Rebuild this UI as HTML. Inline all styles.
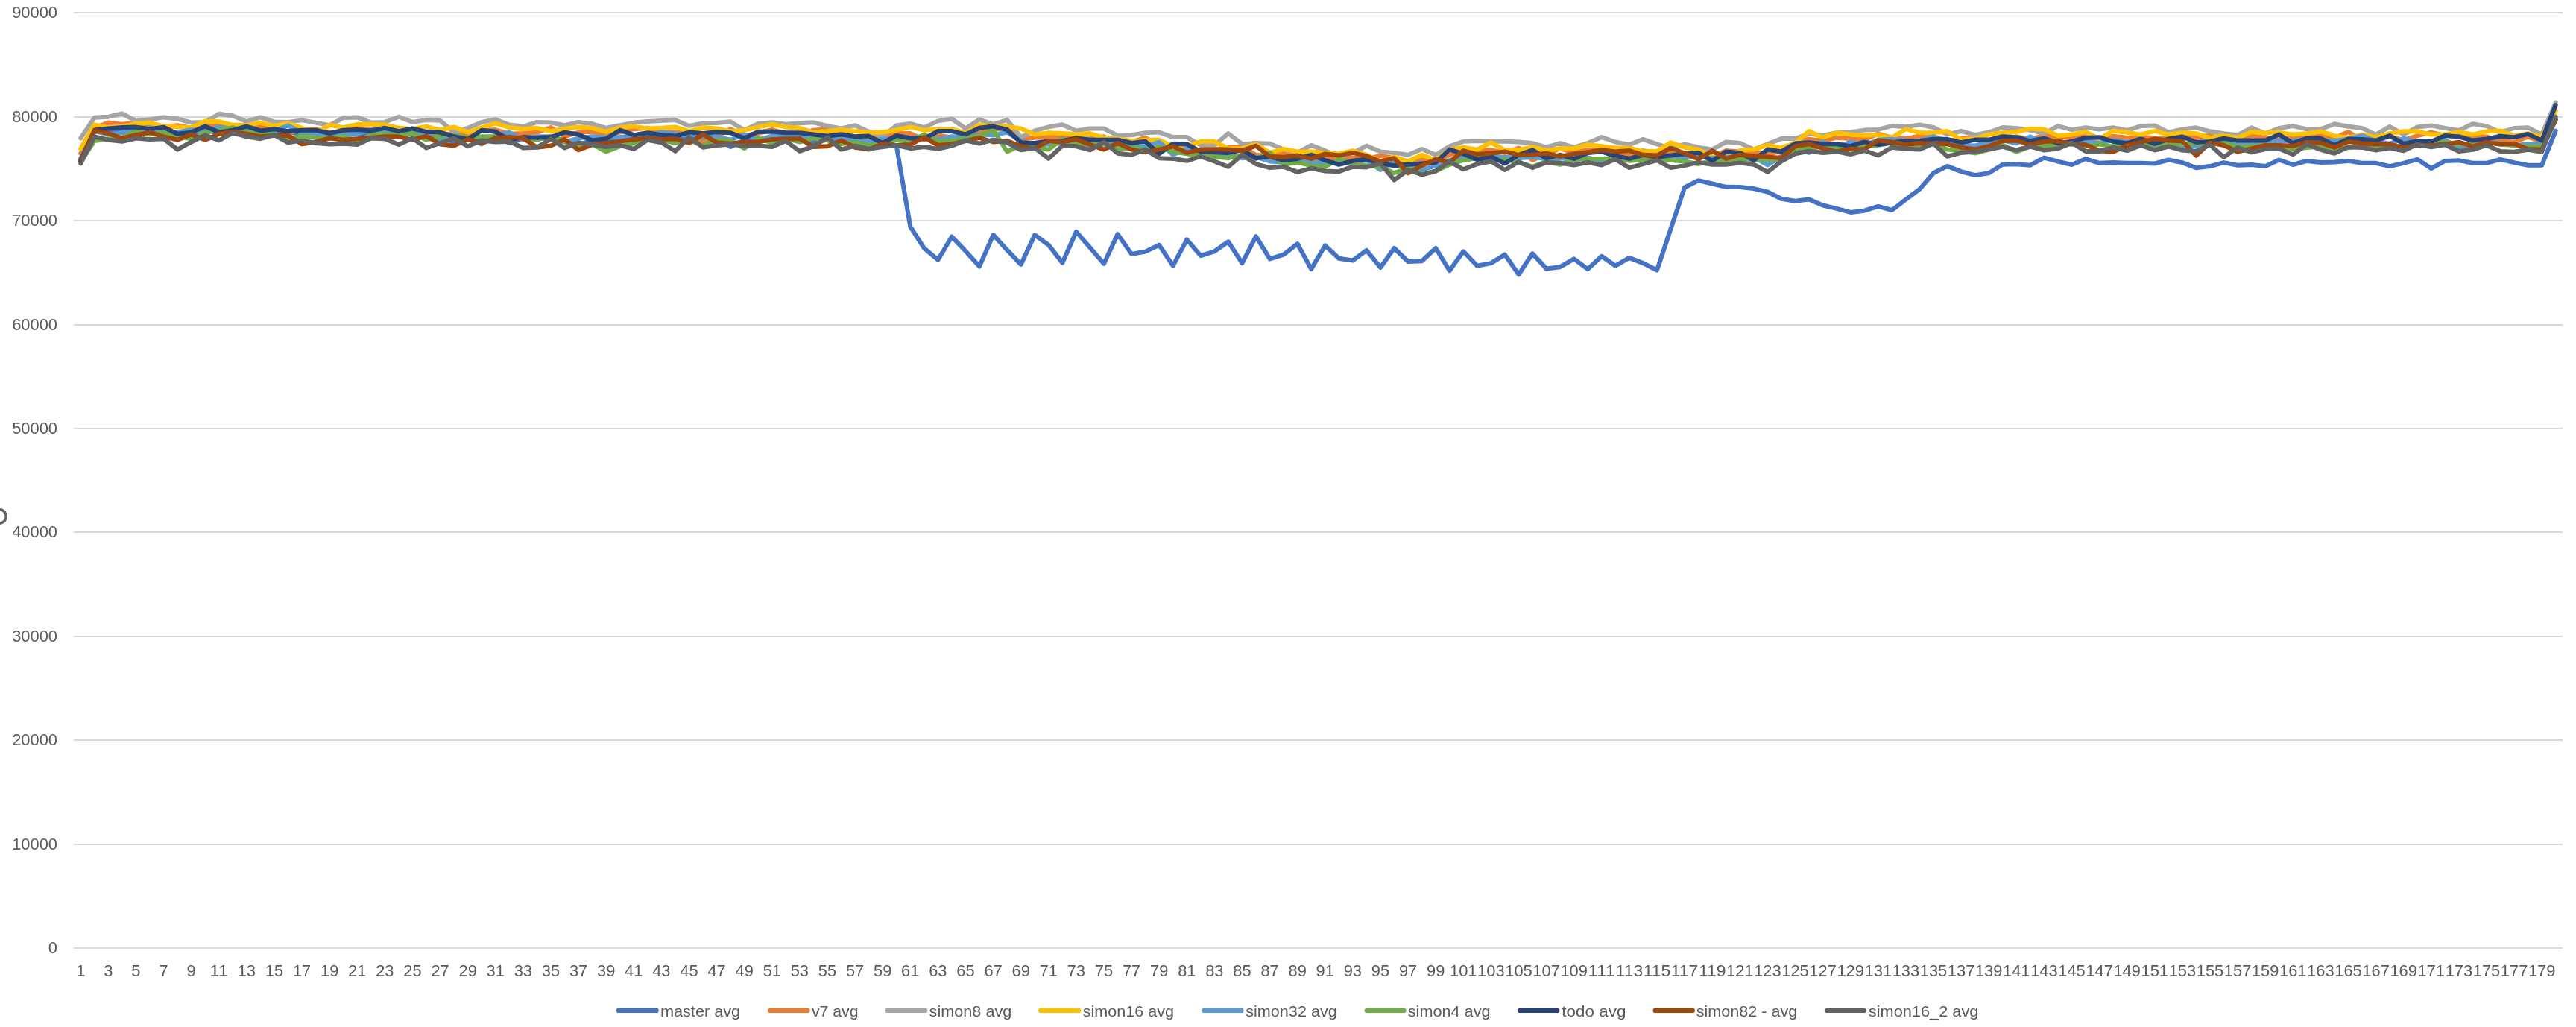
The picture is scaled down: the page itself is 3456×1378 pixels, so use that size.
<!DOCTYPE html>
<html><head><meta charset="utf-8"><title>chart</title>
<style>
html,body{margin:0;padding:0;background:#fff;}
body{width:3456px;height:1378px;overflow:hidden;}
svg{display:block;will-change:transform;}
text{font-family:"Liberation Sans",sans-serif;font-size:21.6px;fill:#595959;}
.g{stroke:#D9D9D9;stroke-width:2;}
.s{fill:none;stroke-width:6;stroke-linejoin:round;stroke-linecap:round;}
</style></head><body>
<svg width="3456" height="1378" viewBox="0 0 3456 1378">
<rect width="3456" height="1378" fill="#fff"/>
<line class="g" x1="99.0" y1="17.00" x2="3438.0" y2="17.00"/>
<text x="77" y="24.10" text-anchor="end" textLength="60.8" lengthAdjust="spacingAndGlyphs">90000</text>
<line class="g" x1="99.0" y1="157.00" x2="3438.0" y2="157.00"/>
<text x="77" y="164.10" text-anchor="end" textLength="60.8" lengthAdjust="spacingAndGlyphs">80000</text>
<line class="g" x1="99.0" y1="296.00" x2="3438.0" y2="296.00"/>
<text x="77" y="303.10" text-anchor="end" textLength="60.8" lengthAdjust="spacingAndGlyphs">70000</text>
<line class="g" x1="99.0" y1="436.00" x2="3438.0" y2="436.00"/>
<text x="77" y="443.10" text-anchor="end" textLength="60.8" lengthAdjust="spacingAndGlyphs">60000</text>
<line class="g" x1="99.0" y1="575.00" x2="3438.0" y2="575.00"/>
<text x="77" y="582.10" text-anchor="end" textLength="60.8" lengthAdjust="spacingAndGlyphs">50000</text>
<line class="g" x1="99.0" y1="714.00" x2="3438.0" y2="714.00"/>
<text x="77" y="721.10" text-anchor="end" textLength="60.8" lengthAdjust="spacingAndGlyphs">40000</text>
<line class="g" x1="99.0" y1="854.00" x2="3438.0" y2="854.00"/>
<text x="77" y="861.10" text-anchor="end" textLength="60.8" lengthAdjust="spacingAndGlyphs">30000</text>
<line class="g" x1="99.0" y1="993.00" x2="3438.0" y2="993.00"/>
<text x="77" y="1000.10" text-anchor="end" textLength="60.8" lengthAdjust="spacingAndGlyphs">20000</text>
<line class="g" x1="99.0" y1="1133.00" x2="3438.0" y2="1133.00"/>
<text x="77" y="1140.10" text-anchor="end" textLength="60.8" lengthAdjust="spacingAndGlyphs">10000</text>
<line class="g" x1="99.0" y1="1272.00" x2="3438.0" y2="1272.00"/>
<text x="77" y="1279.10" text-anchor="end" textLength="12.2" lengthAdjust="spacingAndGlyphs">0</text>
<text x="108.28" y="1310" text-anchor="middle" textLength="12.2" lengthAdjust="spacingAndGlyphs">1</text>
<text x="145.38" y="1310" text-anchor="middle" textLength="12.2" lengthAdjust="spacingAndGlyphs">3</text>
<text x="182.48" y="1310" text-anchor="middle" textLength="12.2" lengthAdjust="spacingAndGlyphs">5</text>
<text x="219.57" y="1310" text-anchor="middle" textLength="12.2" lengthAdjust="spacingAndGlyphs">7</text>
<text x="256.68" y="1310" text-anchor="middle" textLength="12.2" lengthAdjust="spacingAndGlyphs">9</text>
<text x="293.77" y="1310" text-anchor="middle" textLength="24.3" lengthAdjust="spacingAndGlyphs">11</text>
<text x="330.88" y="1310" text-anchor="middle" textLength="24.3" lengthAdjust="spacingAndGlyphs">13</text>
<text x="367.98" y="1310" text-anchor="middle" textLength="24.3" lengthAdjust="spacingAndGlyphs">15</text>
<text x="405.07" y="1310" text-anchor="middle" textLength="24.3" lengthAdjust="spacingAndGlyphs">17</text>
<text x="442.18" y="1310" text-anchor="middle" textLength="24.3" lengthAdjust="spacingAndGlyphs">19</text>
<text x="479.28" y="1310" text-anchor="middle" textLength="24.3" lengthAdjust="spacingAndGlyphs">21</text>
<text x="516.38" y="1310" text-anchor="middle" textLength="24.3" lengthAdjust="spacingAndGlyphs">23</text>
<text x="553.48" y="1310" text-anchor="middle" textLength="24.3" lengthAdjust="spacingAndGlyphs">25</text>
<text x="590.58" y="1310" text-anchor="middle" textLength="24.3" lengthAdjust="spacingAndGlyphs">27</text>
<text x="627.68" y="1310" text-anchor="middle" textLength="24.3" lengthAdjust="spacingAndGlyphs">29</text>
<text x="664.77" y="1310" text-anchor="middle" textLength="24.3" lengthAdjust="spacingAndGlyphs">31</text>
<text x="701.88" y="1310" text-anchor="middle" textLength="24.3" lengthAdjust="spacingAndGlyphs">33</text>
<text x="738.98" y="1310" text-anchor="middle" textLength="24.3" lengthAdjust="spacingAndGlyphs">35</text>
<text x="776.08" y="1310" text-anchor="middle" textLength="24.3" lengthAdjust="spacingAndGlyphs">37</text>
<text x="813.18" y="1310" text-anchor="middle" textLength="24.3" lengthAdjust="spacingAndGlyphs">39</text>
<text x="850.27" y="1310" text-anchor="middle" textLength="24.3" lengthAdjust="spacingAndGlyphs">41</text>
<text x="887.38" y="1310" text-anchor="middle" textLength="24.3" lengthAdjust="spacingAndGlyphs">43</text>
<text x="924.48" y="1310" text-anchor="middle" textLength="24.3" lengthAdjust="spacingAndGlyphs">45</text>
<text x="961.58" y="1310" text-anchor="middle" textLength="24.3" lengthAdjust="spacingAndGlyphs">47</text>
<text x="998.68" y="1310" text-anchor="middle" textLength="24.3" lengthAdjust="spacingAndGlyphs">49</text>
<text x="1035.78" y="1310" text-anchor="middle" textLength="24.3" lengthAdjust="spacingAndGlyphs">51</text>
<text x="1072.88" y="1310" text-anchor="middle" textLength="24.3" lengthAdjust="spacingAndGlyphs">53</text>
<text x="1109.97" y="1310" text-anchor="middle" textLength="24.3" lengthAdjust="spacingAndGlyphs">55</text>
<text x="1147.08" y="1310" text-anchor="middle" textLength="24.3" lengthAdjust="spacingAndGlyphs">57</text>
<text x="1184.17" y="1310" text-anchor="middle" textLength="24.3" lengthAdjust="spacingAndGlyphs">59</text>
<text x="1221.28" y="1310" text-anchor="middle" textLength="24.3" lengthAdjust="spacingAndGlyphs">61</text>
<text x="1258.38" y="1310" text-anchor="middle" textLength="24.3" lengthAdjust="spacingAndGlyphs">63</text>
<text x="1295.48" y="1310" text-anchor="middle" textLength="24.3" lengthAdjust="spacingAndGlyphs">65</text>
<text x="1332.58" y="1310" text-anchor="middle" textLength="24.3" lengthAdjust="spacingAndGlyphs">67</text>
<text x="1369.67" y="1310" text-anchor="middle" textLength="24.3" lengthAdjust="spacingAndGlyphs">69</text>
<text x="1406.78" y="1310" text-anchor="middle" textLength="24.3" lengthAdjust="spacingAndGlyphs">71</text>
<text x="1443.88" y="1310" text-anchor="middle" textLength="24.3" lengthAdjust="spacingAndGlyphs">73</text>
<text x="1480.98" y="1310" text-anchor="middle" textLength="24.3" lengthAdjust="spacingAndGlyphs">75</text>
<text x="1518.08" y="1310" text-anchor="middle" textLength="24.3" lengthAdjust="spacingAndGlyphs">77</text>
<text x="1555.17" y="1310" text-anchor="middle" textLength="24.3" lengthAdjust="spacingAndGlyphs">79</text>
<text x="1592.28" y="1310" text-anchor="middle" textLength="24.3" lengthAdjust="spacingAndGlyphs">81</text>
<text x="1629.38" y="1310" text-anchor="middle" textLength="24.3" lengthAdjust="spacingAndGlyphs">83</text>
<text x="1666.48" y="1310" text-anchor="middle" textLength="24.3" lengthAdjust="spacingAndGlyphs">85</text>
<text x="1703.58" y="1310" text-anchor="middle" textLength="24.3" lengthAdjust="spacingAndGlyphs">87</text>
<text x="1740.67" y="1310" text-anchor="middle" textLength="24.3" lengthAdjust="spacingAndGlyphs">89</text>
<text x="1777.78" y="1310" text-anchor="middle" textLength="24.3" lengthAdjust="spacingAndGlyphs">91</text>
<text x="1814.88" y="1310" text-anchor="middle" textLength="24.3" lengthAdjust="spacingAndGlyphs">93</text>
<text x="1851.98" y="1310" text-anchor="middle" textLength="24.3" lengthAdjust="spacingAndGlyphs">95</text>
<text x="1889.08" y="1310" text-anchor="middle" textLength="24.3" lengthAdjust="spacingAndGlyphs">97</text>
<text x="1926.18" y="1310" text-anchor="middle" textLength="24.3" lengthAdjust="spacingAndGlyphs">99</text>
<text x="1963.28" y="1310" text-anchor="middle" textLength="36.5" lengthAdjust="spacingAndGlyphs">101</text>
<text x="2000.38" y="1310" text-anchor="middle" textLength="36.5" lengthAdjust="spacingAndGlyphs">103</text>
<text x="2037.48" y="1310" text-anchor="middle" textLength="36.5" lengthAdjust="spacingAndGlyphs">105</text>
<text x="2074.57" y="1310" text-anchor="middle" textLength="36.5" lengthAdjust="spacingAndGlyphs">107</text>
<text x="2111.68" y="1310" text-anchor="middle" textLength="36.5" lengthAdjust="spacingAndGlyphs">109</text>
<text x="2148.78" y="1310" text-anchor="middle" textLength="36.5" lengthAdjust="spacingAndGlyphs">111</text>
<text x="2185.88" y="1310" text-anchor="middle" textLength="36.5" lengthAdjust="spacingAndGlyphs">113</text>
<text x="2222.97" y="1310" text-anchor="middle" textLength="36.5" lengthAdjust="spacingAndGlyphs">115</text>
<text x="2260.08" y="1310" text-anchor="middle" textLength="36.5" lengthAdjust="spacingAndGlyphs">117</text>
<text x="2297.18" y="1310" text-anchor="middle" textLength="36.5" lengthAdjust="spacingAndGlyphs">119</text>
<text x="2334.28" y="1310" text-anchor="middle" textLength="36.5" lengthAdjust="spacingAndGlyphs">121</text>
<text x="2371.38" y="1310" text-anchor="middle" textLength="36.5" lengthAdjust="spacingAndGlyphs">123</text>
<text x="2408.47" y="1310" text-anchor="middle" textLength="36.5" lengthAdjust="spacingAndGlyphs">125</text>
<text x="2445.58" y="1310" text-anchor="middle" textLength="36.5" lengthAdjust="spacingAndGlyphs">127</text>
<text x="2482.68" y="1310" text-anchor="middle" textLength="36.5" lengthAdjust="spacingAndGlyphs">129</text>
<text x="2519.78" y="1310" text-anchor="middle" textLength="36.5" lengthAdjust="spacingAndGlyphs">131</text>
<text x="2556.88" y="1310" text-anchor="middle" textLength="36.5" lengthAdjust="spacingAndGlyphs">133</text>
<text x="2593.97" y="1310" text-anchor="middle" textLength="36.5" lengthAdjust="spacingAndGlyphs">135</text>
<text x="2631.08" y="1310" text-anchor="middle" textLength="36.5" lengthAdjust="spacingAndGlyphs">137</text>
<text x="2668.18" y="1310" text-anchor="middle" textLength="36.5" lengthAdjust="spacingAndGlyphs">139</text>
<text x="2705.28" y="1310" text-anchor="middle" textLength="36.5" lengthAdjust="spacingAndGlyphs">141</text>
<text x="2742.38" y="1310" text-anchor="middle" textLength="36.5" lengthAdjust="spacingAndGlyphs">143</text>
<text x="2779.47" y="1310" text-anchor="middle" textLength="36.5" lengthAdjust="spacingAndGlyphs">145</text>
<text x="2816.58" y="1310" text-anchor="middle" textLength="36.5" lengthAdjust="spacingAndGlyphs">147</text>
<text x="2853.68" y="1310" text-anchor="middle" textLength="36.5" lengthAdjust="spacingAndGlyphs">149</text>
<text x="2890.78" y="1310" text-anchor="middle" textLength="36.5" lengthAdjust="spacingAndGlyphs">151</text>
<text x="2927.88" y="1310" text-anchor="middle" textLength="36.5" lengthAdjust="spacingAndGlyphs">153</text>
<text x="2964.97" y="1310" text-anchor="middle" textLength="36.5" lengthAdjust="spacingAndGlyphs">155</text>
<text x="3002.08" y="1310" text-anchor="middle" textLength="36.5" lengthAdjust="spacingAndGlyphs">157</text>
<text x="3039.18" y="1310" text-anchor="middle" textLength="36.5" lengthAdjust="spacingAndGlyphs">159</text>
<text x="3076.28" y="1310" text-anchor="middle" textLength="36.5" lengthAdjust="spacingAndGlyphs">161</text>
<text x="3113.38" y="1310" text-anchor="middle" textLength="36.5" lengthAdjust="spacingAndGlyphs">163</text>
<text x="3150.47" y="1310" text-anchor="middle" textLength="36.5" lengthAdjust="spacingAndGlyphs">165</text>
<text x="3187.58" y="1310" text-anchor="middle" textLength="36.5" lengthAdjust="spacingAndGlyphs">167</text>
<text x="3224.68" y="1310" text-anchor="middle" textLength="36.5" lengthAdjust="spacingAndGlyphs">169</text>
<text x="3261.78" y="1310" text-anchor="middle" textLength="36.5" lengthAdjust="spacingAndGlyphs">171</text>
<text x="3298.88" y="1310" text-anchor="middle" textLength="36.5" lengthAdjust="spacingAndGlyphs">173</text>
<text x="3335.97" y="1310" text-anchor="middle" textLength="36.5" lengthAdjust="spacingAndGlyphs">175</text>
<text x="3373.08" y="1310" text-anchor="middle" textLength="36.5" lengthAdjust="spacingAndGlyphs">177</text>
<text x="3410.18" y="1310" text-anchor="middle" textLength="36.5" lengthAdjust="spacingAndGlyphs">179</text>
<polyline class="s" stroke="#4472C4" points="108.3,214.3 126.8,176.8 145.4,177.6 163.9,174.7 182.5,176.1 201.0,176.8 219.6,176.1 238.1,180.4 256.7,179.0 275.2,176.1 293.8,177.6 312.3,176.1 330.9,176.1 349.4,179.0 368.0,177.6 386.5,177.6 405.1,179.7 423.6,180.4 442.2,181.9 460.7,181.2 479.3,179.7 497.8,179.0 516.4,179.7 534.9,180.4 553.5,179.7 572.0,183.3 590.6,184.8 609.1,190.5 627.7,186.2 646.2,187.7 664.8,183.3 683.3,192.0 701.9,186.2 720.4,186.2 739.0,184.8 757.5,187.7 776.1,194.9 794.6,187.7 813.2,187.7 831.7,187.7 850.3,184.8 868.8,183.3 887.4,183.3 905.9,184.8 924.5,184.8 943.0,186.2 961.6,186.2 980.1,197.0 998.7,187.7 1017.2,187.7 1035.8,186.2 1054.3,186.2 1072.9,187.7 1091.4,190.5 1110.0,187.7 1128.5,187.7 1147.1,189.1 1165.6,190.5 1184.2,192.0 1202.7,195.6 1221.3,304.1 1239.8,333.0 1258.4,348.8 1276.9,317.5 1295.5,336.9 1314.0,357.5 1332.6,315.1 1351.1,335.4 1369.7,354.9 1388.2,315.2 1406.8,328.6 1425.3,352.7 1443.9,310.9 1462.4,332.2 1481.0,353.9 1499.5,314.1 1518.1,340.9 1536.6,337.6 1555.2,328.8 1573.7,356.7 1592.3,321.4 1610.8,343.1 1629.4,337.3 1647.9,324.3 1666.5,353.1 1685.0,317.1 1703.6,347.4 1722.1,341.6 1740.7,327.2 1759.2,361.1 1777.8,329.4 1796.3,346.7 1814.9,349.5 1833.4,335.8 1852.0,358.9 1870.5,333.0 1889.1,351.0 1907.6,350.3 1926.2,333.0 1944.7,363.2 1963.3,337.3 1981.8,356.7 2000.4,353.1 2018.9,341.6 2037.5,368.3 2056.0,340.2 2074.6,360.4 2093.1,358.2 2111.7,347.4 2130.2,361.1 2148.8,343.8 2167.3,356.7 2185.9,345.9 2204.4,353.1 2223.0,362.5 2241.5,307.0 2260.1,251.5 2278.6,242.2 2297.2,246.5 2315.7,250.8 2334.3,251.0 2352.8,253.1 2371.4,257.5 2389.9,266.8 2408.5,269.7 2427.0,267.6 2445.6,275.5 2464.1,279.8 2482.7,284.9 2501.2,282.7 2519.8,276.9 2538.3,282.0 2556.9,267.6 2575.4,253.9 2594.0,232.2 2612.5,222.9 2631.1,230.1 2649.6,235.1 2668.2,232.2 2686.7,220.7 2705.3,220.3 2723.8,221.7 2742.4,211.6 2760.9,216.7 2779.5,221.0 2798.0,213.1 2816.6,218.8 2835.1,218.1 2853.7,218.8 2872.2,218.8 2890.8,219.5 2909.3,214.5 2927.9,218.1 2946.4,225.3 2965.0,223.1 2983.5,218.1 3002.1,221.7 3020.6,221.0 3039.2,223.1 3057.7,214.5 3076.3,221.0 3094.8,215.9 3113.4,218.1 3131.9,217.4 3150.5,215.9 3169.0,218.8 3187.6,218.8 3206.1,223.1 3224.7,218.8 3243.2,213.8 3261.8,226.0 3280.3,215.9 3298.9,215.2 3317.4,218.8 3336.0,218.8 3354.5,213.8 3373.1,218.1 3391.6,221.7 3410.2,221.7 3428.7,175.6"/>
<polyline class="s" stroke="#ED7D31" points="108.3,205.7 126.8,171.8 145.4,164.6 163.9,166.8 182.5,164.6 201.0,168.9 219.6,169.6 238.1,168.2 256.7,171.8 275.2,168.2 293.8,168.9 312.3,171.8 330.9,173.2 349.4,169.6 368.0,171.8 386.5,179.0 405.1,173.2 423.6,173.2 442.2,177.6 460.7,177.6 479.3,171.8 497.8,173.2 516.4,176.1 534.9,177.6 553.5,176.1 572.0,177.6 590.6,179.0 609.1,180.4 627.7,180.4 646.2,174.7 664.8,174.0 683.3,179.7 701.9,179.0 720.4,177.6 739.0,171.1 757.5,183.3 776.1,177.6 794.6,176.8 813.2,181.2 831.7,177.6 850.3,173.2 868.8,171.8 887.4,177.6 905.9,177.6 924.5,179.0 943.0,190.5 961.6,183.3 980.1,173.2 998.7,181.9 1017.2,179.0 1035.8,174.0 1054.3,179.0 1072.9,180.4 1091.4,174.7 1110.0,173.2 1128.5,179.0 1147.1,183.3 1165.6,183.3 1184.2,183.3 1202.7,179.0 1221.3,179.0 1239.8,187.7 1258.4,181.2 1276.9,184.8 1295.5,183.3 1314.0,177.6 1332.6,173.2 1351.1,173.2 1369.7,186.2 1388.2,184.8 1406.8,184.1 1425.3,184.1 1443.9,186.2 1462.4,186.2 1481.0,183.3 1499.5,194.9 1518.1,190.5 1536.6,184.8 1555.2,194.9 1573.7,197.7 1592.3,198.5 1610.8,203.5 1629.4,200.6 1647.9,197.7 1666.5,197.0 1685.0,207.8 1703.6,209.3 1722.1,205.7 1740.7,208.6 1759.2,213.6 1777.8,210.0 1796.3,213.6 1814.9,211.4 1833.4,213.6 1852.0,208.6 1870.5,212.2 1889.1,219.4 1907.6,213.6 1926.2,216.5 1944.7,207.8 1963.3,202.1 1981.8,202.1 2000.4,201.3 2018.9,204.9 2037.5,198.5 2056.0,215.0 2074.6,206.4 2093.1,199.2 2111.7,204.9 2130.2,200.6 2148.8,202.1 2167.3,203.5 2185.9,208.6 2204.4,202.1 2223.0,204.9 2241.5,203.5 2260.1,204.9 2278.6,210.7 2297.2,210.0 2315.7,202.1 2334.3,203.4 2352.8,203.4 2371.4,206.3 2389.9,203.4 2408.5,190.4 2427.0,186.8 2445.6,189.0 2464.1,184.7 2482.7,186.1 2501.2,187.6 2519.8,179.6 2538.3,184.7 2556.9,186.1 2575.4,182.5 2594.0,183.2 2612.5,189.0 2631.1,186.1 2649.6,184.0 2668.2,193.3 2686.7,186.1 2705.3,183.5 2723.8,186.4 2742.4,182.1 2760.9,183.5 2779.5,184.9 2798.0,182.8 2816.6,186.4 2835.1,182.8 2853.7,184.9 2872.2,184.2 2890.8,184.9 2909.3,186.4 2927.9,183.5 2946.4,184.9 2965.0,181.3 2983.5,188.6 3002.1,190.7 3020.6,182.1 3039.2,184.9 3057.7,187.8 3076.3,184.9 3094.8,184.9 3113.4,182.1 3131.9,184.9 3150.5,177.0 3169.0,187.8 3187.6,186.4 3206.1,183.5 3224.7,187.8 3243.2,182.1 3261.8,177.7 3280.3,182.1 3298.9,182.1 3317.4,183.5 3336.0,183.5 3354.5,188.6 3373.1,190.7 3391.6,183.5 3410.2,190.7 3428.7,160.4"/>
<polyline class="s" stroke="#A5A5A5" points="108.3,185.5 126.8,157.7 145.4,156.7 163.9,152.3 182.5,162.4 201.0,160.3 219.6,157.4 238.1,159.5 256.7,164.6 275.2,163.9 293.8,152.8 312.3,155.2 330.9,163.2 349.4,157.4 368.0,163.4 386.5,163.9 405.1,161.4 423.6,164.6 442.2,168.2 460.7,158.1 479.3,157.4 497.8,164.6 516.4,163.9 534.9,156.7 553.5,163.9 572.0,161.0 590.6,161.7 609.1,177.6 627.7,171.8 646.2,163.9 664.8,160.3 683.3,167.5 701.9,169.6 720.4,163.9 739.0,164.6 757.5,168.2 776.1,163.9 794.6,166.0 813.2,171.8 831.7,168.2 850.3,164.6 868.8,162.9 887.4,162.0 905.9,161.0 924.5,168.9 943.0,165.3 961.6,164.9 980.1,163.2 998.7,174.7 1017.2,166.0 1035.8,164.3 1054.3,166.8 1072.9,165.3 1091.4,164.3 1110.0,168.9 1128.5,172.5 1147.1,168.2 1165.6,176.8 1184.2,183.3 1202.7,168.2 1221.3,166.0 1239.8,171.1 1258.4,162.4 1276.9,159.5 1295.5,172.5 1314.0,160.3 1332.6,166.8 1351.1,161.0 1369.7,184.1 1388.2,175.4 1406.8,170.4 1425.3,167.2 1443.9,175.4 1462.4,172.5 1481.0,172.5 1499.5,181.9 1518.1,181.2 1536.6,178.3 1555.2,177.6 1573.7,184.1 1592.3,184.1 1610.8,194.9 1629.4,194.9 1647.9,179.0 1666.5,193.4 1685.0,192.0 1703.6,192.7 1722.1,200.6 1740.7,204.9 1759.2,194.9 1777.8,202.1 1796.3,210.7 1814.9,204.9 1833.4,195.6 1852.0,203.5 1870.5,204.9 1889.1,207.8 1907.6,199.9 1926.2,207.8 1944.7,196.3 1963.3,189.8 1981.8,189.1 2000.4,189.8 2018.9,189.8 2037.5,190.5 2056.0,192.0 2074.6,197.7 2093.1,192.0 2111.7,197.7 2130.2,192.0 2148.8,184.1 2167.3,190.5 2185.9,194.1 2204.4,186.9 2223.0,193.4 2241.5,199.2 2260.1,193.4 2278.6,197.7 2297.2,200.6 2315.7,190.5 2334.3,191.9 2352.8,200.5 2371.4,193.3 2389.9,186.1 2408.5,186.1 2427.0,179.6 2445.6,181.8 2464.1,178.2 2482.7,177.5 2501.2,174.6 2519.8,173.9 2538.3,168.8 2556.9,170.3 2575.4,167.4 2594.0,171.0 2612.5,180.4 2631.1,176.0 2649.6,181.1 2668.2,177.5 2686.7,171.0 2705.3,172.0 2723.8,174.9 2742.4,179.2 2760.9,169.1 2779.5,174.1 2798.0,171.3 2816.6,173.4 2835.1,171.3 2853.7,174.9 2872.2,169.1 2890.8,168.4 2909.3,177.7 2927.9,173.4 2946.4,171.3 2965.0,176.3 2983.5,179.2 3002.1,181.3 3020.6,171.3 3039.2,179.2 3057.7,172.0 3076.3,169.1 3094.8,173.4 3113.4,173.4 3131.9,166.2 3150.5,169.8 3169.0,172.0 3187.6,180.6 3206.1,169.8 3224.7,180.6 3243.2,170.5 3261.8,168.4 3280.3,172.0 3298.9,174.9 3317.4,166.2 3336.0,169.1 3354.5,177.7 3373.1,172.0 3391.6,171.3 3410.2,180.6 3428.7,137.4"/>
<polyline class="s" stroke="#FFC000" points="108.3,199.2 126.8,167.5 145.4,171.1 163.9,169.6 182.5,166.0 201.0,164.6 219.6,169.6 238.1,170.4 256.7,171.1 275.2,162.4 293.8,163.2 312.3,167.8 330.9,168.2 349.4,164.6 368.0,168.9 386.5,165.3 405.1,171.8 423.6,178.3 442.2,167.8 460.7,171.1 479.3,166.8 497.8,166.8 516.4,167.5 534.9,171.8 553.5,173.2 572.0,169.6 590.6,174.7 609.1,170.4 627.7,177.6 646.2,171.1 664.8,165.3 683.3,171.1 701.9,173.2 720.4,171.8 739.0,176.1 757.5,172.5 776.1,170.4 794.6,171.8 813.2,176.8 831.7,171.1 850.3,169.6 868.8,172.5 887.4,171.8 905.9,170.4 924.5,176.1 943.0,171.1 961.6,172.5 980.1,176.1 998.7,174.7 1017.2,170.4 1035.8,166.8 1054.3,170.4 1072.9,171.8 1091.4,177.6 1110.0,176.1 1128.5,174.0 1147.1,176.1 1165.6,178.3 1184.2,177.6 1202.7,174.7 1221.3,170.4 1239.8,174.7 1258.4,173.2 1276.9,173.2 1295.5,178.3 1314.0,167.5 1332.6,169.6 1351.1,169.6 1369.7,172.5 1388.2,180.4 1406.8,178.3 1425.3,179.0 1443.9,180.4 1462.4,179.0 1481.0,184.8 1499.5,186.2 1518.1,189.1 1536.6,187.7 1555.2,187.7 1573.7,197.0 1592.3,196.3 1610.8,189.8 1629.4,189.8 1647.9,199.2 1666.5,199.2 1685.0,193.4 1703.6,204.9 1722.1,199.9 1740.7,203.5 1759.2,203.5 1777.8,204.9 1796.3,206.4 1814.9,202.1 1833.4,207.8 1852.0,216.5 1870.5,210.7 1889.1,216.5 1907.6,207.8 1926.2,215.0 1944.7,200.6 1963.3,197.7 1981.8,200.6 2000.4,191.3 2018.9,201.3 2037.5,201.3 2056.0,197.0 2074.6,202.1 2093.1,199.2 2111.7,199.2 2130.2,194.1 2148.8,196.3 2167.3,198.5 2185.9,198.5 2204.4,203.5 2223.0,202.8 2241.5,191.3 2260.1,197.7 2278.6,200.6 2297.2,210.0 2315.7,207.8 2334.3,202.0 2352.8,200.5 2371.4,194.8 2389.9,198.4 2408.5,191.9 2427.0,176.0 2445.6,184.7 2464.1,178.2 2482.7,180.4 2501.2,181.8 2519.8,181.1 2538.3,184.7 2556.9,173.2 2575.4,178.2 2594.0,178.2 2612.5,176.0 2631.1,187.6 2649.6,186.1 2668.2,180.4 2686.7,178.2 2705.3,177.0 2723.8,172.7 2742.4,173.4 2760.9,182.1 2779.5,180.6 2798.0,177.0 2816.6,186.4 2835.1,175.6 2853.7,177.7 2872.2,180.6 2890.8,175.6 2909.3,180.6 2927.9,177.7 2946.4,179.2 2965.0,184.9 2983.5,182.1 3002.1,184.9 3020.6,177.0 3039.2,178.5 3057.7,177.7 3076.3,180.6 3094.8,179.2 3113.4,176.3 3131.9,182.1 3150.5,184.9 3169.0,180.6 3187.6,184.2 3206.1,179.2 3224.7,176.3 3243.2,176.3 3261.8,180.6 3280.3,180.6 3298.9,177.0 3317.4,180.6 3336.0,176.3 3354.5,175.6 3373.1,182.1 3391.6,179.2 3410.2,183.5 3428.7,148.9"/>
<polyline class="s" stroke="#5B9BD5" points="108.3,212.2 126.8,176.1 145.4,180.4 163.9,178.3 182.5,174.7 201.0,171.8 219.6,174.7 238.1,177.6 256.7,174.0 275.2,176.1 293.8,170.4 312.3,173.2 330.9,174.7 349.4,177.6 368.0,176.1 386.5,168.2 405.1,179.0 423.6,180.4 442.2,180.4 460.7,181.2 479.3,179.0 497.8,174.0 516.4,177.6 534.9,179.0 553.5,179.0 572.0,181.9 590.6,186.2 609.1,181.9 627.7,186.2 646.2,193.4 664.8,181.9 683.3,177.6 701.9,187.7 720.4,183.3 739.0,183.3 757.5,190.5 776.1,185.5 794.6,183.3 813.2,184.8 831.7,184.1 850.3,182.6 868.8,181.2 887.4,177.6 905.9,179.7 924.5,181.9 943.0,184.1 961.6,183.3 980.1,187.7 998.7,180.4 1017.2,187.7 1035.8,182.6 1054.3,183.3 1072.9,184.8 1091.4,184.8 1110.0,186.2 1128.5,185.5 1147.1,187.7 1165.6,190.5 1184.2,186.2 1202.7,187.7 1221.3,186.2 1239.8,181.9 1258.4,186.9 1276.9,183.3 1295.5,184.1 1314.0,180.4 1332.6,181.2 1351.1,177.6 1369.7,189.1 1388.2,194.9 1406.8,193.4 1425.3,192.0 1443.9,193.4 1462.4,197.7 1481.0,193.4 1499.5,193.4 1518.1,197.7 1536.6,196.3 1555.2,190.5 1573.7,207.8 1592.3,199.2 1610.8,202.1 1629.4,206.4 1647.9,207.8 1666.5,212.2 1685.0,210.7 1703.6,216.5 1722.1,217.9 1740.7,215.0 1759.2,217.9 1777.8,217.9 1796.3,219.4 1814.9,217.9 1833.4,215.0 1852.0,228.0 1870.5,216.5 1889.1,223.7 1907.6,228.0 1926.2,222.2 1944.7,215.0 1963.3,210.7 1981.8,210.7 2000.4,210.0 2018.9,210.7 2037.5,212.2 2056.0,210.7 2074.6,212.9 2093.1,212.2 2111.7,213.6 2130.2,211.4 2148.8,216.5 2167.3,210.0 2185.9,215.0 2204.4,212.2 2223.0,210.0 2241.5,212.2 2260.1,211.4 2278.6,210.0 2297.2,212.2 2315.7,210.7 2334.3,210.6 2352.8,210.6 2371.4,221.4 2389.9,209.2 2408.5,197.7 2427.0,204.9 2445.6,190.4 2464.1,197.7 2482.7,190.4 2501.2,194.8 2519.8,187.6 2538.3,186.8 2556.9,189.0 2575.4,189.0 2594.0,183.2 2612.5,191.9 2631.1,194.8 2649.6,195.5 2668.2,191.2 2686.7,188.3 2705.3,192.2 2723.8,183.5 2742.4,189.3 2760.9,190.7 2779.5,193.6 2798.0,189.3 2816.6,192.2 2835.1,187.8 2853.7,190.7 2872.2,193.6 2890.8,192.2 2909.3,192.9 2927.9,195.0 2946.4,196.5 2965.0,192.2 2983.5,190.7 3002.1,192.2 3020.6,192.2 3039.2,190.7 3057.7,189.3 3076.3,189.3 3094.8,186.4 3113.4,188.6 3131.9,189.3 3150.5,186.4 3169.0,182.1 3187.6,189.3 3206.1,192.9 3224.7,185.7 3243.2,190.7 3261.8,192.2 3280.3,187.8 3298.9,197.9 3317.4,193.6 3336.0,190.7 3354.5,192.2 3373.1,195.0 3391.6,193.6 3410.2,192.9 3428.7,160.4"/>
<polyline class="s" stroke="#70AD47" points="108.3,216.5 126.8,189.1 145.4,186.2 163.9,184.8 182.5,176.1 201.0,180.4 219.6,177.6 238.1,183.3 256.7,186.2 275.2,177.6 293.8,174.7 312.3,171.1 330.9,177.6 349.4,179.0 368.0,180.4 386.5,186.2 405.1,182.6 423.6,184.8 442.2,185.5 460.7,183.3 479.3,189.1 497.8,181.2 516.4,179.7 534.9,181.2 553.5,179.0 572.0,187.7 590.6,182.6 609.1,181.9 627.7,184.8 646.2,183.3 664.8,183.3 683.3,184.8 701.9,185.5 720.4,187.7 739.0,182.6 757.5,190.5 776.1,196.3 794.6,193.4 813.2,203.5 831.7,196.3 850.3,192.0 868.8,186.9 887.4,187.7 905.9,192.0 924.5,187.7 943.0,195.6 961.6,187.7 980.1,189.1 998.7,199.2 1017.2,185.5 1035.8,192.0 1054.3,185.5 1072.9,190.5 1091.4,185.5 1110.0,188.4 1128.5,193.4 1147.1,190.5 1165.6,194.9 1184.2,193.4 1202.7,187.7 1221.3,190.5 1239.8,180.4 1258.4,189.8 1276.9,188.4 1295.5,185.5 1314.0,181.9 1332.6,174.7 1351.1,203.5 1369.7,194.9 1388.2,197.7 1406.8,200.6 1425.3,186.2 1443.9,193.4 1462.4,193.4 1481.0,192.0 1499.5,200.6 1518.1,197.7 1536.6,200.6 1555.2,197.7 1573.7,203.5 1592.3,206.4 1610.8,208.6 1629.4,210.0 1647.9,212.2 1666.5,207.8 1685.0,212.9 1703.6,204.9 1722.1,220.8 1740.7,217.9 1759.2,222.2 1777.8,223.7 1796.3,213.6 1814.9,219.4 1833.4,222.2 1852.0,223.7 1870.5,232.3 1889.1,225.1 1907.6,233.8 1926.2,229.5 1944.7,220.8 1963.3,215.0 1981.8,212.2 2000.4,216.5 2018.9,213.6 2037.5,217.9 2056.0,223.7 2074.6,216.5 2093.1,220.8 2111.7,214.3 2130.2,212.9 2148.8,212.9 2167.3,212.2 2185.9,215.8 2204.4,214.3 2223.0,215.0 2241.5,215.0 2260.1,216.5 2278.6,220.1 2297.2,215.8 2315.7,215.0 2334.3,213.5 2352.8,214.2 2371.4,214.2 2389.9,213.5 2408.5,199.1 2427.0,199.1 2445.6,196.2 2464.1,197.7 2482.7,199.1 2501.2,196.2 2519.8,194.8 2538.3,191.9 2556.9,194.8 2575.4,196.2 2594.0,193.3 2612.5,200.5 2631.1,202.0 2649.6,205.6 2668.2,200.5 2686.7,194.8 2705.3,203.7 2723.8,196.5 2742.4,195.8 2760.9,195.0 2779.5,193.6 2798.0,196.5 2816.6,193.6 2835.1,196.5 2853.7,195.0 2872.2,193.6 2890.8,197.9 2909.3,193.6 2927.9,192.9 2946.4,192.2 2965.0,192.9 2983.5,192.2 3002.1,196.5 3020.6,196.5 3039.2,195.0 3057.7,196.5 3076.3,200.1 3094.8,197.9 3113.4,196.5 3131.9,200.8 3150.5,197.9 3169.0,196.5 3187.6,197.2 3206.1,196.5 3224.7,196.5 3243.2,193.6 3261.8,192.2 3280.3,190.7 3298.9,193.6 3317.4,192.9 3336.0,190.7 3354.5,193.6 3373.1,195.0 3391.6,196.5 3410.2,196.5 3428.7,161.2"/>
<polyline class="s" stroke="#264478" points="108.3,215.0 126.8,174.7 145.4,172.5 163.9,171.1 182.5,170.6 201.0,173.2 219.6,170.6 238.1,179.7 256.7,177.6 275.2,169.6 293.8,177.6 312.3,174.7 330.9,169.6 349.4,175.4 368.0,173.2 386.5,176.1 405.1,174.7 423.6,174.7 442.2,179.0 460.7,174.7 479.3,174.0 497.8,175.4 516.4,171.8 534.9,176.1 553.5,172.5 572.0,176.8 590.6,177.6 609.1,183.3 627.7,186.9 646.2,174.7 664.8,176.8 683.3,187.7 701.9,184.1 720.4,184.8 739.0,184.1 757.5,177.6 776.1,180.4 794.6,188.4 813.2,186.2 831.7,174.7 850.3,181.2 868.8,178.3 887.4,181.2 905.9,182.6 924.5,177.6 943.0,179.0 961.6,177.3 980.1,178.3 998.7,185.5 1017.2,176.8 1035.8,176.4 1054.3,178.3 1072.9,178.3 1091.4,180.4 1110.0,182.6 1128.5,180.4 1147.1,183.3 1165.6,182.6 1184.2,192.0 1202.7,181.9 1221.3,185.5 1239.8,186.2 1258.4,176.1 1276.9,176.1 1295.5,180.4 1314.0,171.8 1332.6,169.6 1351.1,174.0 1369.7,191.3 1388.2,192.0 1406.8,189.1 1425.3,189.1 1443.9,185.5 1462.4,187.7 1481.0,187.7 1499.5,187.7 1518.1,192.0 1536.6,189.8 1555.2,206.4 1573.7,192.7 1592.3,193.4 1610.8,203.5 1629.4,204.2 1647.9,204.9 1666.5,201.3 1685.0,212.2 1703.6,210.0 1722.1,215.0 1740.7,212.9 1759.2,207.8 1777.8,215.0 1796.3,220.8 1814.9,215.8 1833.4,213.6 1852.0,219.4 1870.5,222.2 1889.1,220.8 1907.6,219.4 1926.2,217.9 1944.7,200.6 1963.3,206.4 1981.8,214.3 2000.4,210.0 2018.9,219.4 2037.5,207.8 2056.0,201.3 2074.6,212.2 2093.1,207.8 2111.7,212.9 2130.2,204.9 2148.8,203.5 2167.3,209.3 2185.9,212.9 2204.4,207.8 2223.0,210.7 2241.5,208.6 2260.1,206.4 2278.6,204.9 2297.2,215.8 2315.7,203.5 2334.3,204.9 2352.8,214.9 2371.4,200.5 2389.9,203.4 2408.5,192.6 2427.0,191.2 2445.6,193.3 2464.1,193.3 2482.7,196.2 2501.2,190.4 2519.8,194.1 2538.3,191.2 2556.9,189.0 2575.4,189.0 2594.0,186.8 2612.5,186.8 2631.1,191.2 2649.6,187.6 2668.2,187.6 2686.7,183.2 2705.3,184.2 2723.8,189.3 2742.4,185.7 2760.9,192.2 2779.5,190.0 2798.0,184.9 2816.6,184.2 2835.1,190.0 2853.7,192.2 2872.2,186.4 2890.8,192.9 2909.3,186.4 2927.9,183.5 2946.4,190.7 2965.0,190.0 2983.5,185.7 3002.1,188.6 3020.6,188.6 3039.2,188.6 3057.7,180.6 3076.3,192.2 3094.8,185.7 3113.4,185.7 3131.9,195.0 3150.5,186.4 3169.0,187.1 3187.6,188.6 3206.1,182.1 3224.7,192.9 3243.2,189.3 3261.8,190.0 3280.3,182.1 3298.9,183.5 3317.4,188.6 3336.0,186.4 3354.5,182.8 3373.1,184.2 3391.6,179.9 3410.2,188.6 3428.7,141.0"/>
<polyline class="s" stroke="#9E480E" points="108.3,216.5 126.8,175.4 145.4,179.0 163.9,185.5 182.5,181.2 201.0,177.6 219.6,183.3 238.1,187.7 256.7,180.4 275.2,187.7 293.8,179.7 312.3,176.8 330.9,179.7 349.4,183.3 368.0,181.9 386.5,181.9 405.1,193.4 423.6,190.5 442.2,185.5 460.7,187.7 479.3,186.2 497.8,184.8 516.4,183.3 534.9,183.3 553.5,187.7 572.0,182.6 590.6,193.4 609.1,195.6 627.7,186.9 646.2,192.0 664.8,185.5 683.3,184.1 701.9,185.5 720.4,197.7 739.0,195.6 757.5,186.9 776.1,201.3 794.6,194.1 813.2,192.0 831.7,189.8 850.3,186.9 868.8,185.5 887.4,186.9 905.9,186.2 924.5,192.0 943.0,180.4 961.6,191.3 980.1,192.7 998.7,190.5 1017.2,190.5 1035.8,186.9 1054.3,186.2 1072.9,186.2 1091.4,197.0 1110.0,196.3 1128.5,188.4 1147.1,197.7 1165.6,200.6 1184.2,192.7 1202.7,194.9 1221.3,194.1 1239.8,184.1 1258.4,194.9 1276.9,193.4 1295.5,189.1 1314.0,184.8 1332.6,190.5 1351.1,189.1 1369.7,196.3 1388.2,199.2 1406.8,189.1 1425.3,190.5 1443.9,186.9 1462.4,194.1 1481.0,200.6 1499.5,192.0 1518.1,200.6 1536.6,204.2 1555.2,200.6 1573.7,196.3 1592.3,204.9 1610.8,200.6 1629.4,200.6 1647.9,200.6 1666.5,202.1 1685.0,195.6 1703.6,210.0 1722.1,210.7 1740.7,208.6 1759.2,212.9 1777.8,206.4 1796.3,208.6 1814.9,204.9 1833.4,209.3 1852.0,216.5 1870.5,212.2 1889.1,232.3 1907.6,222.2 1926.2,213.6 1944.7,217.9 1963.3,202.1 1981.8,207.1 2000.4,205.7 2018.9,203.5 2037.5,207.8 2056.0,207.8 2074.6,205.7 2093.1,210.0 2111.7,206.4 2130.2,204.2 2148.8,201.3 2167.3,203.5 2185.9,202.1 2204.4,207.8 2223.0,208.6 2241.5,198.5 2260.1,205.7 2278.6,213.6 2297.2,202.1 2315.7,212.9 2334.3,207.7 2352.8,209.2 2371.4,210.6 2389.9,212.1 2408.5,196.2 2427.0,193.3 2445.6,199.1 2464.1,203.4 2482.7,199.8 2501.2,200.5 2519.8,188.3 2538.3,190.4 2556.9,194.1 2575.4,191.9 2594.0,192.6 2612.5,193.3 2631.1,197.7 2649.6,200.5 2668.2,196.2 2686.7,189.0 2705.3,188.6 2723.8,193.6 2742.4,190.0 2760.9,189.3 2779.5,192.9 2798.0,194.3 2816.6,202.2 2835.1,203.7 2853.7,195.0 2872.2,190.7 2890.8,186.4 2909.3,188.6 2927.9,189.3 2946.4,208.7 2965.0,191.4 2983.5,195.0 3002.1,203.7 3020.6,199.4 3039.2,195.0 3057.7,195.0 3076.3,195.8 3094.8,190.7 3113.4,191.4 3131.9,197.9 3150.5,190.0 3169.0,192.2 3187.6,193.6 3206.1,193.6 3224.7,197.9 3243.2,195.0 3261.8,195.0 3280.3,193.6 3298.9,190.7 3317.4,196.5 3336.0,190.7 3354.5,193.6 3373.1,192.9 3391.6,200.1 3410.2,200.8 3428.7,160.4"/>
<polyline class="s" stroke="#636363" points="108.3,219.4 126.8,183.3 145.4,187.7 163.9,189.8 182.5,185.5 201.0,186.9 219.6,186.2 238.1,200.6 256.7,190.5 275.2,181.2 293.8,188.4 312.3,178.3 330.9,183.3 349.4,186.2 368.0,181.2 386.5,191.3 405.1,188.4 423.6,192.0 442.2,193.4 460.7,192.7 479.3,194.1 497.8,185.5 516.4,186.2 534.9,194.1 553.5,185.5 572.0,198.5 590.6,192.0 609.1,185.5 627.7,196.3 646.2,188.4 664.8,190.5 683.3,189.8 701.9,198.5 720.4,197.7 739.0,186.2 757.5,198.5 776.1,191.3 794.6,194.1 813.2,197.0 831.7,194.9 850.3,199.9 868.8,187.7 887.4,191.3 905.9,202.8 924.5,184.1 943.0,197.7 961.6,194.9 980.1,193.4 998.7,196.3 1017.2,195.6 1035.8,197.0 1054.3,189.1 1072.9,202.8 1091.4,196.3 1110.0,184.8 1128.5,200.6 1147.1,195.6 1165.6,199.9 1184.2,197.0 1202.7,194.9 1221.3,199.2 1239.8,197.0 1258.4,199.9 1276.9,195.6 1295.5,188.4 1314.0,192.7 1332.6,187.7 1351.1,191.3 1369.7,201.3 1388.2,198.5 1406.8,212.9 1425.3,195.6 1443.9,196.3 1462.4,201.3 1481.0,190.5 1499.5,205.7 1518.1,207.8 1536.6,200.6 1555.2,212.2 1573.7,212.9 1592.3,215.8 1610.8,210.0 1629.4,216.5 1647.9,223.7 1666.5,207.8 1685.0,220.1 1703.6,225.1 1722.1,223.7 1740.7,230.9 1759.2,225.8 1777.8,229.5 1796.3,230.2 1814.9,223.7 1833.4,224.4 1852.0,219.4 1870.5,241.7 1889.1,228.0 1907.6,234.5 1926.2,229.5 1944.7,216.5 1963.3,227.3 1981.8,220.1 2000.4,216.5 2018.9,228.0 2037.5,217.2 2056.0,225.1 2074.6,217.9 2093.1,218.6 2111.7,221.5 2130.2,217.9 2148.8,221.5 2167.3,213.6 2185.9,225.1 2204.4,220.1 2223.0,215.0 2241.5,225.1 2260.1,222.2 2278.6,217.9 2297.2,220.8 2315.7,220.8 2334.3,218.6 2352.8,220.7 2371.4,230.8 2389.9,216.4 2408.5,206.3 2427.0,202.7 2445.6,204.9 2464.1,203.4 2482.7,207.0 2501.2,202.0 2519.8,208.5 2538.3,197.7 2556.9,199.8 2575.4,200.5 2594.0,192.6 2612.5,209.9 2631.1,204.9 2649.6,203.4 2668.2,200.5 2686.7,196.9 2705.3,201.5 2723.8,196.5 2742.4,201.5 2760.9,199.4 2779.5,191.4 2798.0,203.0 2816.6,203.0 2835.1,197.9 2853.7,202.2 2872.2,195.0 2890.8,201.5 2909.3,196.5 2927.9,201.5 2946.4,203.0 2965.0,194.3 2983.5,210.9 3002.1,197.9 3020.6,204.4 3039.2,200.1 3057.7,199.4 3076.3,207.3 3094.8,193.6 3113.4,200.8 3131.9,205.8 3150.5,197.2 3169.0,197.9 3187.6,201.5 3206.1,198.6 3224.7,202.2 3243.2,193.6 3261.8,197.2 3280.3,194.3 3298.9,203.0 3317.4,200.8 3336.0,195.0 3354.5,203.0 3373.1,203.7 3391.6,200.8 3410.2,203.7 3428.7,156.8"/>
<line x1="829.9" y1="1355.9" x2="880.7" y2="1355.9" stroke="#4472C4" stroke-width="6.2" stroke-linecap="round"/>
<text style="font-size:21px" x="885.9" y="1363.6" textLength="107.3" lengthAdjust="spacingAndGlyphs">master avg</text>
<line x1="1033.1" y1="1355.9" x2="1083.4" y2="1355.9" stroke="#ED7D31" stroke-width="6.2" stroke-linecap="round"/>
<text style="font-size:21px" x="1089.0" y="1363.6" textLength="62.5" lengthAdjust="spacingAndGlyphs">v7 avg</text>
<line x1="1190.7" y1="1355.9" x2="1241.2" y2="1355.9" stroke="#A5A5A5" stroke-width="6.2" stroke-linecap="round"/>
<text style="font-size:21px" x="1246.6" y="1363.6" textLength="110.7" lengthAdjust="spacingAndGlyphs">simon8 avg</text>
<line x1="1396.1" y1="1355.9" x2="1447.3" y2="1355.9" stroke="#FFC000" stroke-width="6.2" stroke-linecap="round"/>
<text style="font-size:21px" x="1452.7" y="1363.6" textLength="122.3" lengthAdjust="spacingAndGlyphs">simon16 avg</text>
<line x1="1615.3" y1="1355.9" x2="1665.5" y2="1355.9" stroke="#5B9BD5" stroke-width="6.2" stroke-linecap="round"/>
<text style="font-size:21px" x="1671.2" y="1363.6" textLength="122.6" lengthAdjust="spacingAndGlyphs">simon32 avg</text>
<line x1="1833.7" y1="1355.9" x2="1883.5" y2="1355.9" stroke="#70AD47" stroke-width="6.2" stroke-linecap="round"/>
<text style="font-size:21px" x="1888.8" y="1363.6" textLength="110.7" lengthAdjust="spacingAndGlyphs">simon4 avg</text>
<line x1="2039.4" y1="1355.9" x2="2089.3" y2="1355.9" stroke="#264478" stroke-width="6.2" stroke-linecap="round"/>
<text style="font-size:21px" x="2095.3" y="1363.6" textLength="86.1" lengthAdjust="spacingAndGlyphs">todo avg</text>
<line x1="2220.6" y1="1355.9" x2="2270.8" y2="1355.9" stroke="#9E480E" stroke-width="6.2" stroke-linecap="round"/>
<text style="font-size:21px" x="2275.7" y="1363.6" textLength="135.7" lengthAdjust="spacingAndGlyphs">simon82 - avg</text>
<line x1="2450.9" y1="1355.9" x2="2501.2" y2="1355.9" stroke="#636363" stroke-width="6.2" stroke-linecap="round"/>
<text style="font-size:21px" x="2506.8" y="1363.6" textLength="147.6" lengthAdjust="spacingAndGlyphs">simon16_2 avg</text>
<circle cx="-1.2" cy="692.9" r="9.4" fill="#fff" stroke="#636363" stroke-width="3.5"/>
</svg>
</body></html>
